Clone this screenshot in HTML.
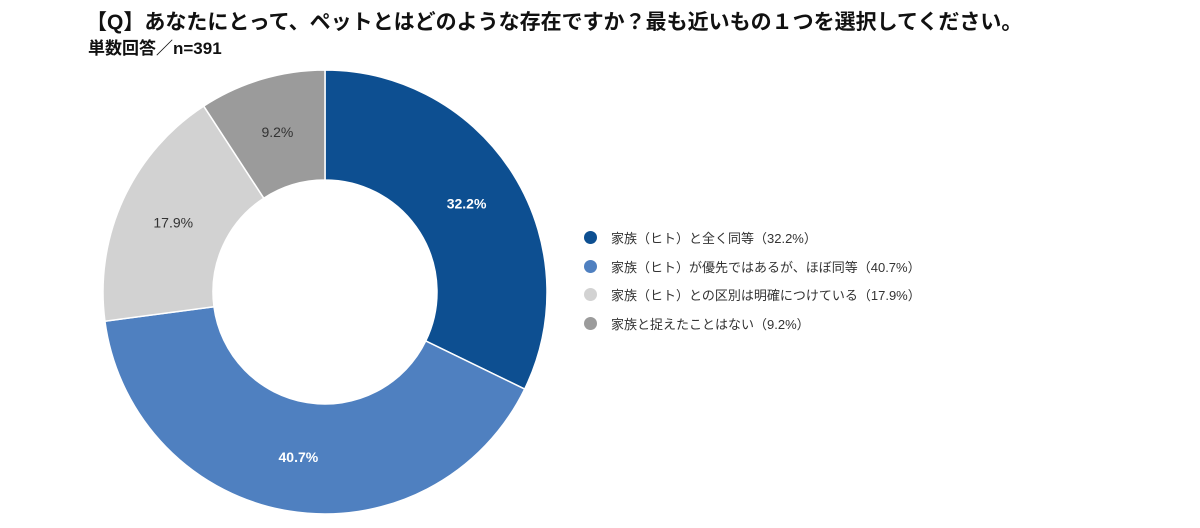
<!DOCTYPE html>
<html><head><meta charset="utf-8"><style>
body{margin:0;width:1200px;height:528px;background:#fff;overflow:hidden;font-family:"Liberation Sans","Noto Sans CJK JP",sans-serif;position:relative}
.t{position:absolute;font-weight:bold;color:#111;white-space:nowrap}
.lg{position:absolute;left:584px;font-size:13px;color:#333;white-space:nowrap;display:flex;align-items:center}
.lg i{display:inline-block;width:13px;height:13px;border-radius:50%;margin-right:14px}
</style></head><body>
<div class="t" style="left:86px;top:6px;font-size:21px">【Q】あなたにとって、ペットとはどのような存在ですか？最も近いもの１つを選択してください。</div>
<div class="t" style="left:88px;top:34px;font-size:17px">単数回答／n=391</div>
<svg id="chart" width="600" height="528" style="position:absolute;left:0;top:0"></svg>
<div id="legend"></div>
<script>
const categories=["家族（ヒト）と全く同等","家族（ヒト）が優先ではあるが、ほぼ同等","家族（ヒト）との区別は明確につけている","家族と捉えたことはない"];
const values=[32.2,40.7,17.9,9.2];
const colors=["#0d4f91","#4f80c0","#d2d2d2","#9b9b9b"];
const labelColors=["#fff","#fff","#333","#333"];
const cx=325,cy=292,R=222,r=112;
const svg=document.getElementById('chart');
const NS="http://www.w3.org/2000/svg";
const total=values.reduce((a,b)=>a+b,0);
let a0=0;
function pt(a,rad){return [cx+rad*Math.sin(a),cy-rad*Math.cos(a)];}
values.forEach((v,i)=>{
 const a1=a0+v/total*2*Math.PI;
 const large=(a1-a0)>Math.PI?1:0;
 const [x0,y0]=pt(a0,R),[x1,y1]=pt(a1,R),[x2,y2]=pt(a1,r),[x3,y3]=pt(a0,r);
 const p=document.createElementNS(NS,'path');
 p.setAttribute('d',`M${x0},${y0}A${R},${R} 0 ${large} 1 ${x1},${y1}L${x2},${y2}A${r},${r} 0 ${large} 0 ${x3},${y3}Z`);
 p.setAttribute('fill',colors[i]);p.setAttribute('stroke','#fff');p.setAttribute('stroke-width','1.5');
 
 
 svg.appendChild(p);
 const am=(a0+a1)/2;const [lx,ly]=pt(am,(R+r)/2);
 const t=document.createElementNS(NS,'text');
 t.setAttribute('x',lx);t.setAttribute('y',ly+5);t.setAttribute('text-anchor','middle');
 t.setAttribute('font-size','14');t.setAttribute('font-weight',i<2?'bold':'normal');t.setAttribute('fill',labelColors[i]);
 t.setAttribute('font-family','Liberation Sans, sans-serif');
 t.textContent=values[i].toFixed(1)+'%';
 
 
 svg.appendChild(t);
 a0=a1;
});
const lg=document.getElementById('legend');
categories.forEach((c,i)=>{
 const d=document.createElement('div');d.className='lg';d.style.top=(228+i*28.5)+'px';
 
 
 d.innerHTML=`<i style="background:${colors[i]}"></i>${c}（${values[i].toFixed(1)}%）`;
 lg.appendChild(d);
});
</script>
</body></html>
